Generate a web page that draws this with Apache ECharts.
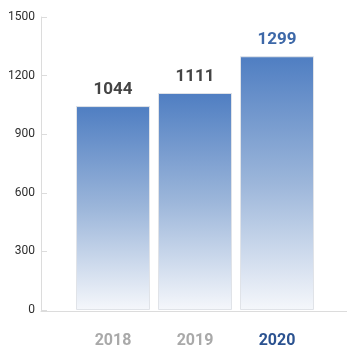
<!DOCTYPE html>
<html>
<head>
<meta charset="utf-8">
<script src="https://cdn.jsdelivr.net/npm/echarts@6/dist/echarts.min.js"></script>
<style>
html,body{margin:0;padding:0;background:#fff;}
#chart{width:347px;height:349px;}
</style>
</head>
<body>
<div id="chart"></div>
<script>
// Yearly totals
const years = ['2018', '2019', '2020'];
const totals = [1044, 1111, 1299];
const yTicks = [0, 300, 600, 900, 1200, 1500];

const FONT = 'Roboto, "Liberation Sans", sans-serif';
const labelColors = ['#444444', '#444444', '#3d68a8'];
const yearColors = ['#a9a9a9', '#a9a9a9', '#2b5290'];

const chart = echarts.init(document.getElementById('chart'));

const barGradient = new echarts.graphic.LinearGradient(0, 0, 0, 1, [
  { offset: 0, color: '#4f7ec2' },
  { offset: 0.5, color: '#9cb6da' },
  { offset: 1, color: '#f5f7fb' }
]);

chart.setOption({
  animation: false,
  grid: [
    { left: 72, right: 29, top: 17, bottom: 38 },
    { left: 41, right: 0, top: 17, bottom: 38 }
  ],
  xAxis: [
    {
      type: 'category',
      gridIndex: 0,
      data: years,
      axisLine: { show: false },
      axisTick: { show: false },
      axisLabel: {
        margin: 23,
        fontFamily: FONT,
        fontSize: 16,
        fontWeight: 'bold',
        color: (v, i) => yearColors[i]
      }
    },
    {
      type: 'category',
      gridIndex: 1,
      data: [''],
      axisLine: { show: true, lineStyle: { color: '#dcdcdc', width: 1 } },
      axisTick: { show: false },
      axisLabel: { show: false }
    }
  ],
  yAxis: [
    {
      type: 'value',
      gridIndex: 0,
      min: yTicks[0],
      max: yTicks[yTicks.length - 1],
      interval: 300,
      offset: 31,
      axisLine: { show: true, lineStyle: { color: '#dcdcdc' } },
      axisTick: { show: true, inside: true, length: 6, lineStyle: { color: '#dcdcdc' } },
      splitLine: { show: false },
      axisLabel: {
        margin: 6,
        fontFamily: FONT,
        fontSize: 12,
        color: '#2e2e2e',
        formatter: v => String(v)
      }
    },
    {
      type: 'value',
      gridIndex: 1,
      min: 0,
      max: 1500,
      show: false
    }
  ],
  series: [
    {
      type: 'bar',
      xAxisIndex: 0,
      yAxisIndex: 0,
      data: totals.map((v, i) => ({
        value: v,
        label: { color: labelColors[i] }
      })),
      barWidth: 74,
      itemStyle: {
        color: barGradient,
        borderColor: '#e0e3e8',
        borderWidth: 1
      },
      label: {
        show: true,
        position: 'top',
        distance: 8,
        fontFamily: FONT,
        fontSize: 17,
        fontWeight: 'bold'
      }
    }
  ]
});
</script>
</body>
</html>
